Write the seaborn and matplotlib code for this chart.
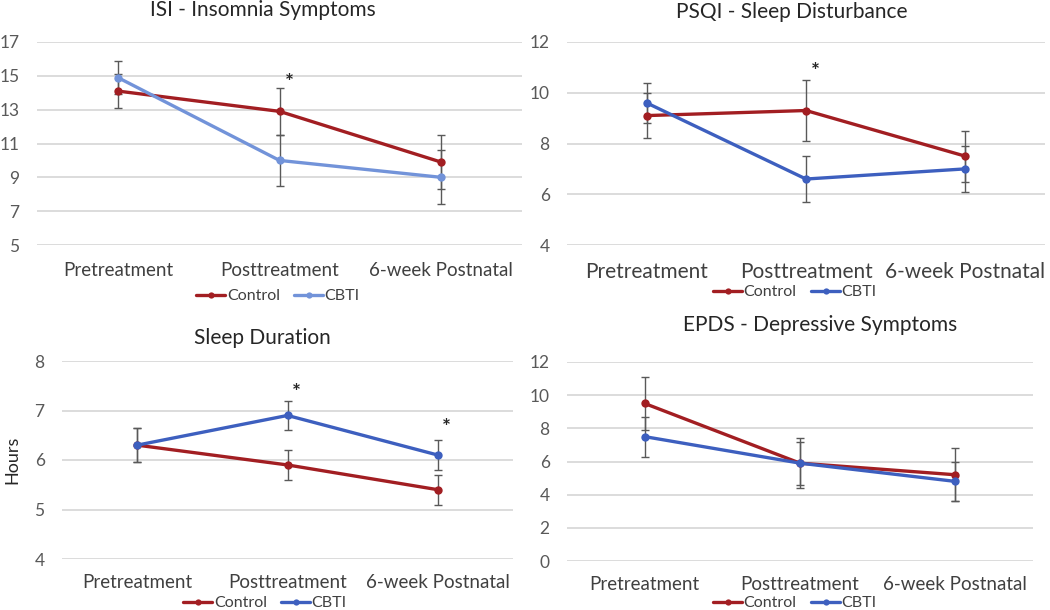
import pandas as pd
import numpy as np
import matplotlib
matplotlib.use("Agg")
import matplotlib.pyplot as plt
from matplotlib.lines import Line2D
import seaborn as sns

# ---- data ----
timepoints = ["Pretreatment", "Posttreatment", "6-week Postnatal"]
groups = ["Control", "CBTI"]

isi_control = [14.1, 12.9, 9.9]
isi_cbti = [14.9, 10.0, 9.0]
isi_control_err = [1.0, 1.4, 1.6]
isi_cbti_err = [1.0, 1.5, 1.6]

psqi_control = [9.1, 9.3, 7.5]
psqi_cbti = [9.6, 6.6, 7.0]
psqi_control_err = [0.9, 1.2, 1.0]
psqi_cbti_err = [0.8, 0.9, 0.9]

sleep_control = [6.3, 5.9, 5.4]
sleep_cbti = [6.3, 6.9, 6.1]
sleep_control_err = [0.35, 0.3, 0.3]
sleep_cbti_err = [0.35, 0.3, 0.3]

epds_control = [9.5, 5.9, 5.2]
epds_cbti = [7.5, 5.9, 4.8]
epds_control_err = [1.6, 1.5, 1.6]
epds_cbti_err = [1.2, 1.3, 1.2]

RED = "#A21E22"
BLUE = "#3D5FBF"
LIGHT_BLUE = "#7293D9"
W, H = 1050, 610

sns.set_theme(style="white")
plt.rcParams["font.family"] = ["Lato", "DejaVu Sans"]

fig = plt.figure(figsize=(W / 100, H / 100), dpi=100)


def px_axes(x0, x1, y0, y1):
    # pixel box (top-left origin) -> figure axes
    return fig.add_axes([x0 / W, 1 - y1 / H, (x1 - x0) / W, (y1 - y0) / H])


def panel(ax, title, title_xy, ctrl, cbti, ctrl_err, cbti_err, ylim, step,
          cbti_color, label_y, legend_xy, stars=(), ylabel=None, label_fs=13.5):
    df = pd.DataFrame({
        "time": timepoints * 2,
        "score": ctrl + cbti,
        "group": ["Control"] * 3 + ["CBTI"] * 3,
    })
    pal = {"Control": RED, "CBTI": cbti_color}
    sns.lineplot(data=df, x="time", y="score", hue="group", palette=pal,
                 hue_order=groups, marker="o", markersize=6, markeredgewidth=0,
                 linewidth=2.4, errorbar=None, sort=False, legend=False, ax=ax,
                 zorder=3)
    xs = np.arange(len(timepoints))
    for vals, errs in [(ctrl, ctrl_err), (cbti, cbti_err)]:
        ax.errorbar(xs, vals, yerr=errs, fmt="none", ecolor="#595959",
                    elinewidth=1.0, capsize=3, capthick=1.0, zorder=2)
    for xi, yv in stars:
        ax.text(xi + 0.06, yv, "*", ha="center", va="center", fontsize=15,
                color="#262626", fontweight="bold")

    ax.set_xlim(-0.5, 2.5)
    ax.set_ylim(*ylim)
    ax.set_yticks(np.arange(ylim[0], ylim[1] + 0.01, step))
    ax.yaxis.grid(True, color="#D9D9D9", linewidth=1.3)
    ax.set_axisbelow(True)
    for s in ax.spines.values():
        s.set_visible(False)
    ax.tick_params(axis="y", length=0, pad=12.5, labelsize=12.5,
                   labelcolor="#595959")
    ax.set_xticks(xs)
    ax.set_xticklabels([])
    ax.tick_params(axis="x", length=0)
    ax.set_xlabel("")
    ax.set_ylabel(ylabel if ylabel else "", fontsize=13, color="#262626",
                  labelpad=10)

    # category labels at pixel height
    trans = ax.get_xaxis_transform()
    y_ax = (1 - label_y / H - ax.get_position().y0) / ax.get_position().height
    for xi, t in zip(xs, timepoints):
        ax.text(xi, y_ax, t, transform=trans, ha="center", va="center",
                fontsize=label_fs, color="#404040", clip_on=False)

    fig.text(title_xy[0] / W, 1 - title_xy[1] / H, title, ha="center",
             va="center", fontsize=15, color="#262626")

    handles = [Line2D([], [], color=RED, marker="o", markersize=4.5,
                      markeredgewidth=0, linewidth=2.4),
               Line2D([], [], color=cbti_color, marker="o", markersize=4.5,
                      markeredgewidth=0, linewidth=2.4)]
    fig.legend(handles, groups, loc="center",
               bbox_to_anchor=(legend_xy[0] / W, 1 - legend_xy[1] / H),
               ncol=2, frameon=False, fontsize=11.5, handlelength=1.8,
               handletextpad=0.1, columnspacing=0.9, labelcolor="#404040")


ax1 = px_axes(37, 522, 42, 245)
panel(ax1, "ISI - Insomnia Symptoms", (263, 10), isi_control, isi_cbti,
      isi_control_err, isi_cbti_err, (5, 17), 2, LIGHT_BLUE, 270, (278, 296),
      stars=[(1, 14.6)])

ax2 = px_axes(567, 1045, 42, 245)
panel(ax2, "PSQI - Sleep Disturbance", (792, 12), psqi_control, psqi_cbti,
      psqi_control_err, psqi_cbti_err, (4, 12), 2, BLUE, 272, (795, 292),
      stars=[(1, 10.8)], label_fs=15)

ax3 = px_axes(62, 513, 361, 559)
panel(ax3, "Sleep Duration", (262, 338), sleep_control, sleep_cbti,
      sleep_control_err, sleep_cbti_err, (4, 8), 1, BLUE, 583, (265, 603),
      stars=[(1, 7.35), (2, 6.65)], ylabel="Hours")

ax4 = px_axes(567, 1033, 362, 561)
panel(ax4, "EPDS - Depressive Symptoms", (820, 325), epds_control, epds_cbti,
      epds_control_err, epds_cbti_err, (0, 12), 2, BLUE, 584, (795, 603))

fig.savefig("out.png", dpi=100, facecolor="white")
